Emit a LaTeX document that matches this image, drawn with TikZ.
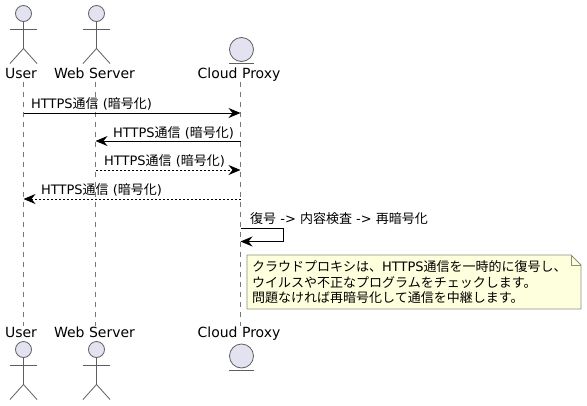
\documentclass[tikz,border=0pt]{standalone}
\usepackage{fontspec}
\setmainfont{DejaVu Sans}
\newfontfamily\cjk{Noto Sans CJK JP}
\usetikzlibrary{arrows.meta}
\definecolor{partfill}{HTML}{E2E2F0}
\definecolor{partline}{HTML}{5F5F5F}
\definecolor{notefill}{HTML}{FEFFDD}
\definecolor{noteline}{HTML}{8F8F75}
\tikzset{
  x=1pt,y=-1pt,
  lifeline/.style={draw=partline!85,line width=0.8pt,dash pattern=on 5pt off 5pt},
  head/.style={draw=partline,fill=partfill,line width=0.8pt},
  limb/.style={draw=partline,line width=0.8pt},
  plabel/.style={font=\fontsize{14}{16}\selectfont,text=black,anchor=base,inner sep=0pt},
  mlabel/.style={font=\fontsize{13}{15}\selectfont,text=black,anchor=base west,inner sep=0pt},
  solidmsg/.style={draw=black,line width=1pt,-{Stealth[length=12pt,width=10pt,inset=4pt]}},
  dashmsg/.style={draw=black,line width=0.8pt,dash pattern=on 2pt off 2pt,-{Stealth[length=12pt,width=10pt,inset=4pt,line width=1pt]}},
  notebox/.style={draw=noteline,fill=notefill,line width=0.8pt,line join=miter},
  notetext/.style={font=\fontsize{13}{15.5}\selectfont,align=left,anchor=north west,inner sep=0pt,text=black}
}
\newcommand{\actorfig}[2]{%
  \draw[head] (#1,#2+5.5) circle[radius=8];
  \draw[limb] (#1,#2+13.5) -- (#1,#2+40.5);
  \draw[limb] (#1-13.5,#2+21.5) -- (#1+13.5,#2+21.5);
  \draw[limb] (#1-13.5,#2+55.5) -- (#1,#2+40.5) -- (#1+13.5,#2+55.5);
}
\newcommand{\entityfig}[3]{%
  \draw[head] (#1,#2) circle[radius=12];
  \draw[limb] (#1-12.5,#3) -- (#1+12.5,#3);
}
\newcommand{\ango}{{\cjk 通信} ({\cjk 暗号化})}
\begin{document}
\begin{tikzpicture}
\useasboundingbox (0,0) rectangle (587,405);
\coordinate (ut) at (23.5,82);  \coordinate (ub) at (23.5,326);
\coordinate (wt) at (95.5,82);  \coordinate (wb) at (95.5,326);
\coordinate (ct) at (240.5,82); \coordinate (cb) at (240.5,326);
\draw[lifeline] (ut) -- (ub);
\draw[lifeline] (wt) -- (wb);
\draw[lifeline] (ct) -- (cb);
% top participants
\actorfig{23.5}{8}
\actorfig{96.5}{8}
\entityfig{241.5}{49.5}{63}
\node[plabel] (u1) at (21,78) {User};
\node[plabel] (w1) at (94.5,78) {Web Server};
\node[plabel] (c1) at (239,78) {Cloud Proxy};
% bottom participants
\actorfig{23.5}{344}
\actorfig{96.5}{344}
\entityfig{241.5}{356}{370}
\node[plabel] (u2) at (21,337) {User};
\node[plabel] (w2) at (94.5,337) {Web Server};
\node[plabel] (c2) at (239,337) {Cloud Proxy};
% messages
\coordinate (m1a) at (23.5,113);  \coordinate (m1b) at (240.5,113);
\coordinate (m2a) at (240.5,141); \coordinate (m2b) at (95.5,141);
\coordinate (m3a) at (95.5,170);  \coordinate (m3b) at (240.5,170);
\coordinate (m4a) at (240.5,199); \coordinate (m4b) at (23.5,199);
\coordinate (m5a) at (240.5,228); \coordinate (m5c) at (283.5,228);
\coordinate (m5d) at (283.5,241.5); \coordinate (m5b) at (240.5,241.5);
\draw[solidmsg] (m1a) -- (m1b);
\draw[solidmsg] (m2a) -- (m2b);
\draw[dashmsg] (m3a) -- (m3b);
\draw[dashmsg] (m4a) -- (m4b);
\draw[solidmsg] (m5a) -- (m5c) -- (m5d) -- (m5b);
\node[mlabel] (l1) at (31,108) {HTTPS\ango};
\node[mlabel] (l2) at (113,137) {HTTPS\ango};
\node[mlabel] (l3) at (104,165.5) {HTTPS\ango};
\node[mlabel] (l4) at (41,194.5) {HTTPS\ango};
\node[mlabel] (l5) at (250,223.5) {{\cjk 復号} -> {\cjk 内容検査} -> {\cjk 再暗号化}};
% note
\draw[notebox] (247,255) -- (571,255) -- (581,265) -- (581,309) -- (247,309) -- cycle;
\draw[notebox,fill=none] (571,255) -- (571,265) -- (581,265);
\node[notetext] (n) at (252,260.5) {{\cjk クラウドプロキシは、}HTTPS{\cjk 通信を一時的に復号し、}\\{\cjk ウイルスや不正なプログラムをチェックします。}\\{\cjk 問題なければ再暗号化して通信を中継します。}};
\end{tikzpicture}
\end{document}
